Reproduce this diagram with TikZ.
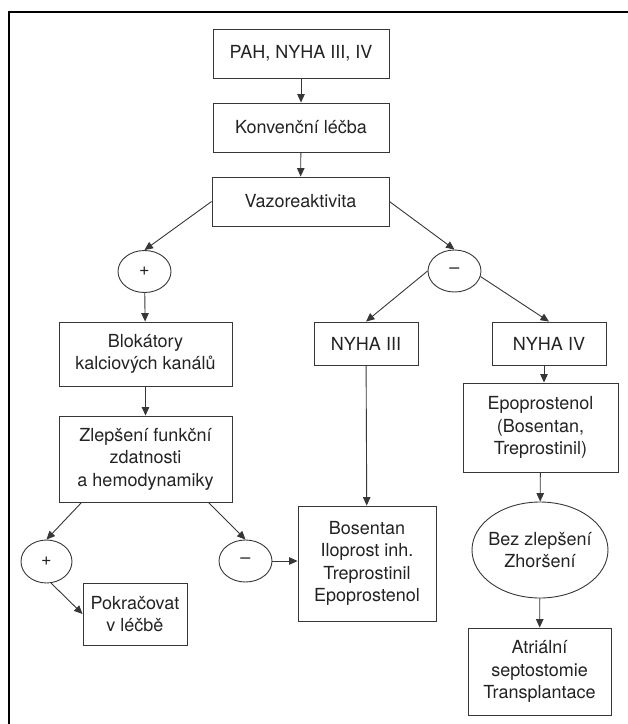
\documentclass[tikz,border=0pt]{standalone}
\usepackage{fontspec}
\setmainfont{TeX Gyre Heros}
\usepackage{tikz}
\usetikzlibrary{
    shapes.geometric,
    arrows.meta
}
\definecolor{linegray}{RGB}{55, 55, 55}
\definecolor{textgray}{RGB}{35, 35, 35}
\tikzstyle{arrow} = [
    -{Triangle[length=8.5pt,width=7.5pt]},
    draw=linegray,
    line width=0.9pt
]
\tikzstyle{box} = [
    draw=linegray,
    line width=0.9pt,
    rectangle,
    align=center,
    inner sep=0pt,
    text=textgray,
    font=\fontsize{18}{22.5}\selectfont
]
\tikzstyle{sign} = [
    draw=linegray,
    line width=0.9pt,
    ellipse,
    align=center,
    inner sep=0pt,
    minimum width=53pt,
    minimum height=42pt,
    text=textgray,
    font=\fontsize{18}{22.5}\selectfont
]

\begin{document}
\begin{tikzpicture}[x=1pt,y=-1pt]
        \useasboundingbox (0,0) rectangle (628,724);

        % Frame (cut off at right and bottom)
        \draw[black, line width=1.5pt] (9,724) -- (9,12) -- (628,12);

        % Main column
        \node[box, minimum width=176pt, minimum height=49pt] (pah) at (301,53.5) {PAH, NYHA III, IV};
        \node[box, minimum width=176pt, minimum height=49pt] (konv) at (301,127.5) {Konvenční léčba};
        \node[box, minimum width=177pt, minimum height=49pt] (vazo) at (300.5,201.5) {Vazoreaktivita};

        % Responders
        \node[sign] (plusA) at (144.5,271.5) {+};
        \node[box, minimum width=173pt, minimum height=64pt] (blok) at (145.5,354) {Blokátory\\kalciových kanálů};
        \node[box, minimum width=173pt, minimum height=86pt] (zlep) at (145.5,459) {Zlepšení funkční\\zdatnosti\\a hemodynamiky};
        \node[sign, minimum width=51pt, minimum height=43pt] (plusB) at (46.5,561.5) {+};
        \node[sign] (minusB) at (245.5,561) {\textendash};
        \node[box, minimum width=104pt, minimum height=62pt] (pokr) at (135,614) {Pokračovat\\v léčbě};

        % Non-responders
        \node[sign] (minusA) at (454.5,271) {\textendash};
        \node[box, minimum width=104pt, minimum height=43pt] (nyhaIII) at (366,343.5) {NYHA III};
        \node[box, minimum width=114pt, minimum height=43pt] (nyhaIV) at (549,343.5) {NYHA IV};
        \node[box, minimum width=138pt, minimum height=115pt] (bosen) at (367,563.5) {Bosentan\\Iloprost inh.\\Treprostinil\\Epoprostenol};
        \node[box, minimum width=155pt, minimum height=89pt] (epop) at (540.5,427.5) {Epoprostenol\\(Bosentan,\\Treprostinil)};
        \node[sign, inner xsep=-4pt, minimum width=136pt, minimum height=96pt] (bez) at (540,550) {Bez zlepšení\\Zhoršení};
        \node[box, minimum width=143pt, minimum height=87pt] (atri) at (539.5,671.5) {Atriální\\septostomie\\Transplantace};

        % Connectors
        \draw[arrow] (pah) -- (konv);
        \draw[arrow] (konv) -- (vazo);
        \draw[arrow] (vazo.west) -- (plusA.north);
        \draw[arrow] (vazo.east) -- (minusA.north);
        \draw[arrow] (plusA) -- (blok);
        \draw[arrow] (blok) -- (zlep);
        \draw[arrow] ([xshift=23pt]zlep.south west) -- (plusB.north);
        \draw[arrow] ([xshift=-24pt]zlep.south east) -- (minusB.north);
        \draw[arrow] (plusB.-78) -- (pokr.west);
        \draw[arrow] (minusB.east) -- (minusB.east -| bosen.west);
        \draw[arrow] (minusA.west) -- (nyhaIII.north);
        \draw[arrow] (minusA.-12) -- (nyhaIV.north);
        \draw[arrow] (nyhaIII) -- (bosen);
        \draw[arrow] ([xshift=-5pt]nyhaIV.south) -- ([xshift=-5pt]nyhaIV.south |- epop.north);
        \draw[arrow] (epop) -- (bez);
        \draw[arrow] (bez) -- (atri);
\end{tikzpicture}
\end{document}
